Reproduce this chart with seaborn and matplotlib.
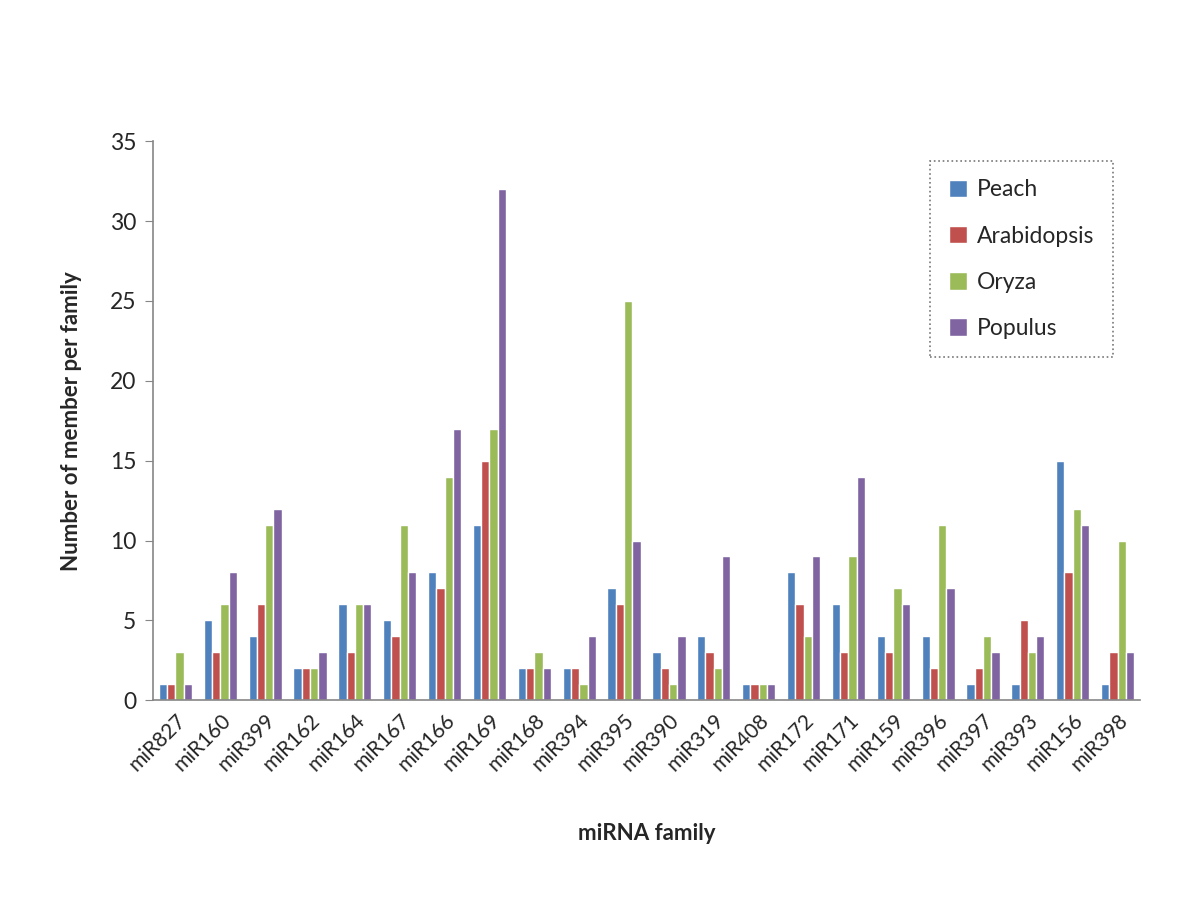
import pandas as pd
import seaborn as sns
import matplotlib.pyplot as plt

families = ['miR827', 'miR160', 'miR399', 'miR162', 'miR164', 'miR167', 'miR166',
            'miR169', 'miR168', 'miR394', 'miR395', 'miR390', 'miR319', 'miR408',
            'miR172', 'miR171', 'miR159', 'miR396', 'miR397', 'miR393', 'miR156', 'miR398']
peach = [1, 5, 4, 2, 6, 5, 8, 11, 2, 2, 7, 3, 4, 1, 8, 6, 4, 4, 1, 1, 15, 1]
arabidopsis = [1, 3, 6, 2, 3, 4, 7, 15, 2, 2, 6, 2, 3, 1, 6, 3, 3, 2, 2, 5, 8, 3]
oryza = [3, 6, 11, 2, 6, 11, 14, 17, 3, 1, 25, 1, 2, 1, 4, 9, 7, 11, 4, 3, 12, 10]
populus = [1, 8, 12, 3, 6, 8, 17, 32, 2, 4, 10, 4, 9, 1, 9, 14, 6, 7, 3, 4, 11, 3]

species = ['Peach', 'Arabidopsis', 'Oryza', 'Populus']
colors = ['#4F81BD', '#C0504D', '#9BBB59', '#8064A2']

df = pd.DataFrame({'family': families, 'Peach': peach, 'Arabidopsis': arabidopsis,
                   'Oryza': oryza, 'Populus': populus})
long_df = df.melt(id_vars='family', var_name='species', value_name='count')

sns.set_style('white')
plt.rcParams['font.family'] = ['Lato', 'DejaVu Sans']

fig = plt.figure(figsize=(12, 9), dpi=100)
ax = fig.add_axes([0.1275, 0.222, 0.8225, 0.621])

sns.barplot(data=long_df, x='family', y='count', hue='species', hue_order=species,
            palette=colors, width=0.74, gap=0, saturation=1, ax=ax)

ax.set_ylim(0, 35)
ax.set_yticks(range(0, 36, 5))
ax.set_xlim(-0.5, len(families) - 0.5)

for s in ['top', 'right']:
    ax.spines[s].set_visible(False)
for s in ['left', 'bottom']:
    ax.spines[s].set_color('#868686')
    ax.spines[s].set_linewidth(1.2)

ax.tick_params(axis='y', which='both', left=True, length=6, color='#868686',
               labelsize=16.5, pad=6)
ax.tick_params(axis='x', bottom=False, labelsize=15, pad=4)
plt.setp(ax.get_xticklabels(), rotation=45, ha='right', rotation_mode='anchor')

ax.set_xlabel('miRNA family', fontsize=16, fontweight='bold', labelpad=34)
ax.set_ylabel('Number of member per family', fontsize=16, fontweight='bold', labelpad=20)

leg = ax.legend(loc='upper left', bbox_to_anchor=(0.776, 0.985), fontsize=16.5,
                frameon=True, fancybox=False, handlelength=0.8, handleheight=0.8,
                labelspacing=1.1, borderpad=0.8, handletextpad=0.45)
frame = leg.get_frame()
frame.set_edgecolor('#555555')
frame.set_linestyle(':')
frame.set_linewidth(1.2)
leg.set_title(None)

fig.savefig('out.png', dpi=100)
